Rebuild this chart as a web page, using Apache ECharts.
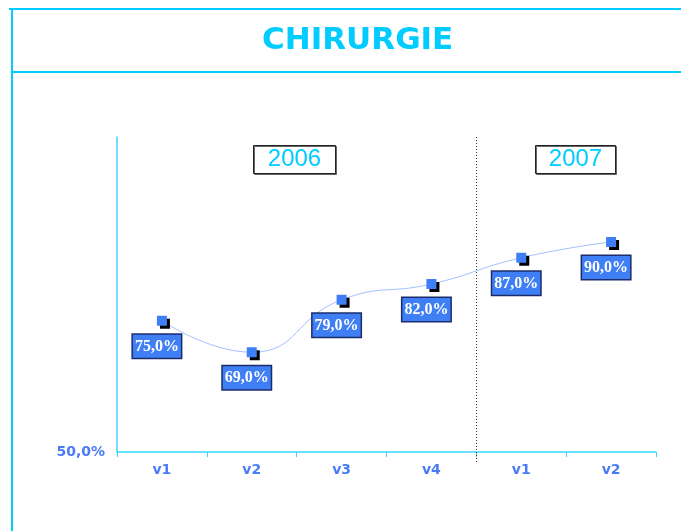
<!DOCTYPE html>
<html>
<head>
<meta charset="utf-8">
<style>
    html, body { margin: 0; padding: 0; background: #fff; }
    #chirurgie { width: 681px; height: 531px; }
</style>
<script src="https://cdn.jsdelivr.net/npm/echarts@6/dist/echarts.min.js"></script>
</head>
<body>
<div id="chirurgie"></div>
<script>
    // periodes (2006: v1-v4, 2007: v1-v2)
    var categories = ['v1', 'v2', 'v3', 'v4', 'v1', 'v2'];
    var taux = [75, 69, 79, 82, 87, 90];
    var annees = ['2006', '2007'];
    var yMin = 50, yMax = 110;

    var cyan = '#00ccff';
    var bleu = '#4a7bf7';

    function pct(v) {
        return v.toFixed(1).replace('.', ',') + '%';
    }

    var chart = echarts.init(document.getElementById('chirurgie'), null, { renderer: 'canvas' });
    var option = {
        animation: false,
        backgroundColor: '#fff',
        grid: { left: 117, right: 25, top: 137, bottom: 79 },
        xAxis: {
            type: 'category',
            data: categories,
            boundaryGap: true,
            axisLine: { lineStyle: { color: '#3ad8ff', width: 1.5 } },
            axisTick: { show: true, length: 5, lineStyle: { color: '#3ad8ff' } },
            axisLabel: {
                color: bleu, fontFamily: 'DejaVu Sans', fontWeight: 'bold',
                fontSize: 14, margin: 11
            },
            splitLine: { show: false }
        },
        yAxis: {
            type: 'value',
            min: yMin, max: yMax, interval: 60,
            axisLine: { show: true, lineStyle: { color: '#3ad8ff', width: 1.5 } },
            axisTick: { show: false },
            axisLabel: {
                color: bleu, fontFamily: 'DejaVu Sans', fontWeight: 'bold',
                fontSize: 14, margin: 12,
                formatter: function (v) { return v === yMin ? pct(v) : ''; }
            },
            splitLine: { show: false }
        },
        series: [{
            type: 'line',
            data: taux,
            smooth: 0.5,
            symbol: 'rect',
            symbolSize: 10,
            lineStyle: { color: '#a3c0ff', width: 1 },
            itemStyle: {
                color: '#3f7ff5',
                shadowColor: '#000', shadowBlur: 0,
                shadowOffsetX: 3, shadowOffsetY: 3
            },
            label: {
                show: true,
                position: 'bottom',
                distance: 9,
                offset: [-5, 0],
                formatter: function (p) { return pct(p.value); },
                backgroundColor: '#3f7ff5',
                borderColor: '#1c2c6b',
                borderWidth: 1.5,
                padding: [4, 2, 3, 2],
                color: '#fff',
                fontFamily: 'Liberation Serif',
                fontWeight: 'bold',
                fontSize: 16
            }
        }],
        graphic: [
            // cadre
            { type: 'line', shape: { x1: 9, y1: 9, x2: 681, y2: 9 }, style: { stroke: cyan, lineWidth: 2 } },
            { type: 'line', shape: { x1: 12, y1: 72, x2: 681, y2: 72 }, style: { stroke: cyan, lineWidth: 2 } },
            { type: 'line', shape: { x1: 12, y1: 8, x2: 12, y2: 531 }, style: { stroke: cyan, lineWidth: 2 } },
            {
                type: 'text', left: 262, top: 25,
                style: { text: 'CHIRURGIE', fill: cyan, font: 'bold 31px "DejaVu Sans"' }
            },
            // separation 2006 / 2007
            {
                type: 'line', shape: { x1: 476.5, y1: 137, x2: 476.5, y2: 462 },
                style: { stroke: '#333', lineWidth: 1, lineDash: [1, 2] }, z: 10
            },
            {
                type: 'group', left: 253, top: 145,
                children: [
                    { type: 'rect', shape: { x: 0, y: 0, width: 82, height: 28 },
                      style: { fill: '#fff', stroke: '#222', lineWidth: 1, shadowColor: '#666', shadowOffsetX: 1, shadowOffsetY: 1 } },
                    { type: 'text', x: 41, y: 14,
                      style: { text: annees[0], fill: cyan, font: '24px "Liberation Sans"', align: 'center', verticalAlign: 'middle' } }
                ]
            },
            {
                type: 'group', left: 535, top: 145,
                children: [
                    { type: 'rect', shape: { x: 0, y: 0, width: 80, height: 28 },
                      style: { fill: '#fff', stroke: '#222', lineWidth: 1, shadowColor: '#666', shadowOffsetX: 1, shadowOffsetY: 1 } },
                    { type: 'text', x: 40, y: 14,
                      style: { text: annees[1], fill: cyan, font: '24px "Liberation Sans"', align: 'center', verticalAlign: 'middle' } }
                ]
            }
        ]
    };
    chart.setOption(option);
</script>
</body>
</html>
